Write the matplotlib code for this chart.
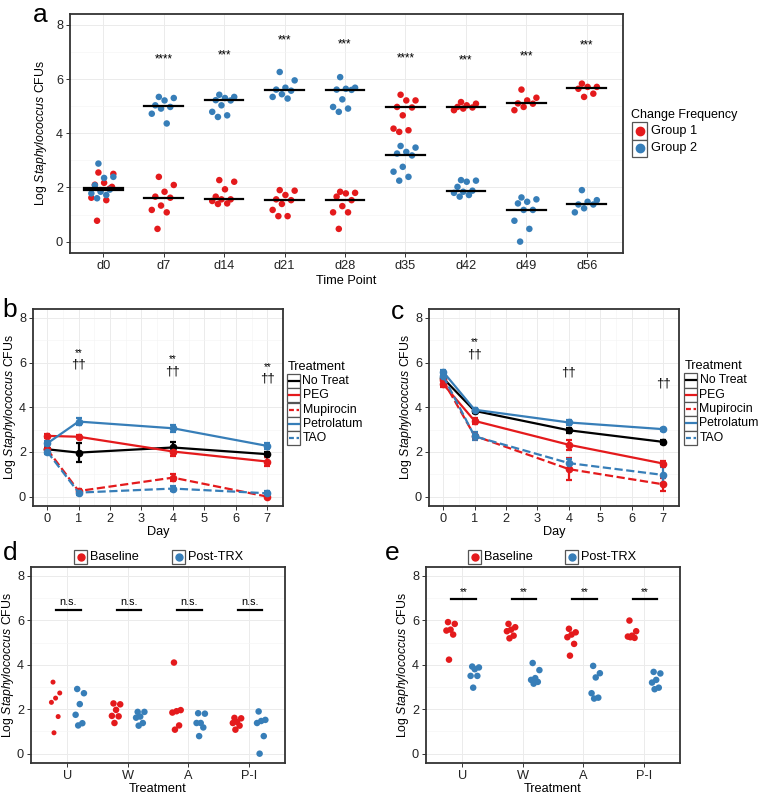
import numpy as np
import matplotlib
matplotlib.use("Agg")
import matplotlib.pyplot as plt
from matplotlib.patches import Rectangle
from matplotlib.lines import Line2D

plt.rcParams['font.family'] = ['Liberation Sans', 'DejaVu Sans']
plt.rcParams['mathtext.fontset'] = 'custom'
plt.rcParams['mathtext.rm'] = 'Liberation Sans'
plt.rcParams['mathtext.it'] = 'Liberation Sans:italic'

ROJO = '#E41A1C'
AZUL = '#377EB8'
BORDE = '#333333'
ANCHO, ALTO = 761, 796
LETRA = 8.8
ETIQUETA_Y = r"Log $\it{Staphylococcus}$ CFUs"

' Panel a data '
puntosTiempo = ['d0', 'd7', 'd14', 'd21', 'd28', 'd35', 'd42', 'd49', 'd56']
grupo1 = [
    [2.55, 2.5, 2.17, 2.1, 1.96, 1.9, 1.62, 1.53, 0.77, 2.02],
    [2.39, 2.09, 1.84, 1.66, 1.62, 1.33, 1.17, 1.08, 0.47],
    [2.27, 2.21, 1.93, 1.66, 1.56, 1.56, 1.5, 1.41, 1.39],
    [1.9, 1.88, 1.72, 1.56, 1.53, 1.39, 1.17, 0.94, 0.94],
    [1.84, 1.8, 1.78, 1.66, 1.53, 1.31, 1.08, 1.08, 0.47],
    [5.42, 5.21, 5.21, 4.97, 4.95, 4.66, 4.17, 4.11, 4.05],
    [5.15, 5.09, 5.03, 4.97, 4.95, 4.91, 4.85],
    [5.61, 5.31, 5.21, 5.1, 5.09, 4.97, 4.85],
    [5.83, 5.71, 5.71, 5.64, 5.46, 5.34],
]
grupo2 = [
    [2.88, 2.39, 2.35, 2.08, 1.92, 1.84, 1.78, 1.72, 1.6],
    [5.34, 5.3, 5.21, 5.03, 4.97, 4.91, 4.72, 4.36],
    [5.42, 5.34, 5.3, 5.22, 5.21, 5.03, 4.79, 4.66, 4.6],
    [6.26, 5.95, 5.68, 5.61, 5.57, 5.44, 5.34, 5.28],
    [6.07, 5.68, 5.64, 5.61, 5.6, 5.25, 4.97, 4.91, 4.79],
    [3.53, 3.47, 3.31, 3.25, 3.18, 2.76, 2.58, 2.39, 2.25],
    [2.27, 2.25, 2.21, 2.02, 1.88, 1.84, 1.8, 1.72, 1.66],
    [1.63, 1.56, 1.47, 1.41, 1.17, 1.17, 0.77, 0.47, 0.0],
    [1.9, 1.53, 1.47, 1.37, 1.37, 1.23, 1.08],
]
estrellasA = ['', '****', '***', '***', '***', '****', '***', '***', '***']
alturaEstrellasA = [0, 6.72, 6.88, 7.41, 7.29, 6.76, 6.7, 6.85, 7.25]

' Panels b and c data '
dias = [0, 1, 4, 7]
tratamientos = ['No Treat', 'PEG', 'Mupirocin', 'Petrolatum', 'TAO']
mediasB = {
    'No Treat': [2.12, 1.97, 2.2, 1.9],
    'PEG': [2.72, 2.68, 2.02, 1.57],
    'Mupirocin': [2.12, 0.25, 0.85, 0.0],
    'Petrolatum': [2.38, 3.36, 3.06, 2.27],
    'TAO': [2.02, 0.18, 0.36, 0.15],
}
erroresB = {
    'No Treat': [0.08, 0.42, 0.25, 0.12],
    'PEG': [0.08, 0.06, 0.2, 0.22],
    'Mupirocin': [0.1, 0.08, 0.15, 0.05],
    'Petrolatum': [0.1, 0.15, 0.15, 0.15],
    'TAO': [0.1, 0.1, 0.1, 0.1],
}
mediasC = {
    'No Treat': [5.3, 3.84, 2.97, 2.45],
    'PEG': [5.04, 3.39, 2.32, 1.48],
    'Mupirocin': [5.2, 2.72, 1.23, 0.55],
    'Petrolatum': [5.59, 3.89, 3.32, 3.02],
    'TAO': [5.4, 2.7, 1.5, 0.97],
}
erroresC = {
    'No Treat': [0.1, 0.1, 0.12, 0.1],
    'PEG': [0.12, 0.12, 0.22, 0.1],
    'Mupirocin': [0.15, 0.15, 0.5, 0.3],
    'Petrolatum': [0.08, 0.08, 0.1, 0.06],
    'TAO': [0.1, 0.18, 0.2, 0.35],
}
dobleB = ['', '**', '**', '**']
dagaB = ['', '\u2020\u2020', '\u2020\u2020', '\u2020\u2020']
alturaDobleB = [0, 6.42, 6.15, 5.82]
alturaDagaB = [0, 5.9, 5.61, 5.27]
dobleC = ['', '**', '', '']
dagaC = ['', '\u2020\u2020', '\u2020\u2020', '\u2020\u2020']
alturaDobleC = [0, 6.92, 0, 0]
alturaDagaC = [0, 6.36, 5.56, 5.08]

' Panels d and e data '
sitios = ['U', 'W', 'A', 'P-I']
baseD = [
    [3.22, 2.73, 2.5, 2.31, 1.67, 0.94],
    [2.26, 2.22, 1.97, 1.7, 1.68, 1.38],
    [4.1, 1.96, 1.91, 1.85, 1.27, 1.08],
    [1.61, 1.59, 1.43, 1.38, 1.26, 1.08],
]
postD = [
    [2.91, 2.72, 2.23, 1.75, 1.37, 1.27],
    [1.88, 1.88, 1.67, 1.62, 1.38, 1.26],
    [1.82, 1.8, 1.38, 1.38, 1.18, 0.79],
    [1.9, 1.52, 1.47, 1.38, 0.79, 0.0],
]
baseE = [
    [5.92, 5.84, 5.58, 5.54, 5.36, 4.23],
    [5.84, 5.69, 5.58, 5.51, 5.31, 5.19],
    [5.62, 5.46, 5.36, 5.24, 4.94, 4.41],
    [5.99, 5.51, 5.31, 5.27, 5.21, 5.24],
]
postE = [
    [3.92, 3.88, 3.8, 3.5, 3.5, 2.97],
    [4.08, 3.76, 3.4, 3.32, 3.23, 3.15],
    [3.95, 3.62, 3.43, 2.72, 2.52, 2.48],
    [3.68, 3.61, 3.32, 3.2, 2.97, 2.9],
]
signifD = ['n.s.', 'n.s.', 'n.s.', 'n.s.']
signifE = ['**', '**', '**', '**']


def caja(x0, y0, x1, y1):
    ' pixel box (from top-left) to figure rect '
    return [x0 / ANCHO, 1 - y1 / ALTO, (x1 - x0) / ANCHO, (y1 - y0) / ALTO]


def fx(x):
    return x / ANCHO


def fy(y):
    return 1 - y / ALTO


def jitter(n, ancho):
    ' deterministic spread, golden ratio sequence '
    return ancho * 2 * (((np.arange(n) * 0.618 + 0.3) % 1) - 0.5)


def estiloEje(ax, xmenores=None):
    ax.set_ylim(-0.42, 8.4)
    ax.set_yticks([0, 2, 4, 6, 8])
    ax.set_yticks([1, 3, 5, 7], minor=True)
    if xmenores is not None:
        ax.set_xticks(xmenores, minor=True)
    ax.grid(which='major', color='#EBEBEB', linewidth=0.7)
    ax.grid(which='minor', color='#F4F4F4', linewidth=0.4)
    ax.set_axisbelow(True)
    for s in ax.spines.values():
        s.set_color(BORDE)
        s.set_linewidth(1.3)
    ax.tick_params(which='major', length=3, width=0.7, color=BORDE,
                   labelsize=LETRA + 0.4, labelcolor='#222222', pad=2)
    ax.tick_params(which='minor', length=0)


def cajaClave(fig, x0, y0, x1, y1):
    fig.add_artist(Rectangle((fx(x0), fy(y1)), fx(x1) - fx(x0), fy(y0) - fy(y1),
                             transform=fig.transFigure, facecolor='white',
                             edgecolor='#555555', linewidth=0.9))


fig = plt.figure(figsize=(7.61, 7.96), dpi=100)

' ---- Panel a ---- '
axA = fig.add_axes(caja(70, 14, 623, 253))
estiloEje(axA)
posA = np.arange(1, len(puntosTiempo) + 1)
for i, p in enumerate(posA):
    for valores, color in ((grupo1[i], ROJO), (grupo2[i], AZUL)):
        xs = p + jitter(len(valores), 0.2)
        axA.scatter(xs, valores, s=22, color=color, edgecolors='none', zorder=3)
        med = np.median(valores)
        axA.plot([p - 0.32, p + 0.32], [med, med], color='black', lw=1.6, zorder=4)
    if estrellasA[i]:
        axA.text(p, alturaEstrellasA[i], estrellasA[i], ha='center', va='center',
                 fontsize=8.3)
axA.set_xlim(0.45, 9.6)
axA.set_xticks(posA)
axA.set_xticklabels(puntosTiempo)
axA.set_xlabel('Time Point', fontsize=LETRA + 0.4, labelpad=2)
axA.set_ylabel(ETIQUETA_Y, fontsize=LETRA, labelpad=5)
fig.text(fx(40), fy(15), 'a', fontsize=19, ha='center', va='center')

' legend a '
fig.text(fx(631), fy(115), 'Change Frequency', fontsize=LETRA + 0.2, va='center')
for j, (nombre, color) in enumerate((('Group 1', ROJO), ('Group 2', AZUL))):
    yc = 131 + j * 17.3
    cajaClave(fig, 632, yc - 8.5, 647, yc + 8.5)
    fig.add_artist(Line2D([fx(639.5)], [fy(yc)], marker='o', markersize=6,
                          color=color, transform=fig.transFigure))
    fig.text(fx(651), fy(yc), nombre, fontsize=LETRA + 0.4, va='center')

' ---- Panels b and c ---- '
estilos = {
    'No Treat': ('black', '-'),
    'PEG': (ROJO, '-'),
    'Mupirocin': (ROJO, '--'),
    'Petrolatum': (AZUL, '-'),
    'TAO': (AZUL, '--'),
}


def panelLineas(ax, medias, errores, doble, altDoble, daga, altDaga):
    estiloEje(ax, xmenores=np.arange(-0.5, 8, 1))
    for t in tratamientos:
        color, ls = estilos[t]
        ax.errorbar(dias, medias[t], yerr=errores[t], color=color, ls=ls,
                    lw=1.6, marker='o', markersize=4.5, capsize=2.5,
                    elinewidth=1.6, capthick=1.6, zorder=3)
    for i, d in enumerate(dias):
        if doble[i]:
            ax.text(d, altDoble[i], doble[i], ha='center', va='center', fontsize=7)
        if daga[i]:
            ax.text(d, altDaga[i], daga[i], ha='center', va='center', fontsize=9.5)
    ax.set_xlim(-0.45, 7.5)
    ax.set_xticks(range(0, 8))
    ax.set_xlabel('Day', fontsize=LETRA + 0.4, labelpad=1)
    ax.set_ylabel(ETIQUETA_Y, fontsize=LETRA, labelpad=1)


def leyendaLineas(x0, yTitulo, yPrimero):
    fig.text(fx(x0 + 1), fy(yTitulo), 'Treatment', fontsize=LETRA + 0.4, va='center')
    for j, t in enumerate(tratamientos):
        color, ls = estilos[t]
        yc = yPrimero + j * 14.3
        cajaClave(fig, x0, yc - 7.1, x0 + 13, yc + 7.1)
        fig.add_artist(Line2D([fx(x0 + 1.5), fx(x0 + 11.5)], [fy(yc), fy(yc)],
                              color=color, ls=ls, lw=1.6,
                              dashes=(2.2, 1.2) if ls == '--' else (None, None),
                              transform=fig.transFigure))
        fig.text(fx(x0 + 15.5), fy(yc), t, fontsize=LETRA, va='center')


axB = fig.add_axes(caja(33, 309, 283, 506))
panelLineas(axB, mediasB, erroresB, dobleB, alturaDobleB, dagaB, alturaDagaB)
fig.text(fx(10), fy(310), 'b', fontsize=19, ha='center', va='center')
leyendaLineas(287, 367, 381)

axC = fig.add_axes(caja(429, 309, 679, 506))
panelLineas(axC, mediasC, erroresC, dobleC, alturaDobleC, dagaC, alturaDagaC)
fig.text(fx(397), fy(312), 'c', fontsize=19, ha='center', va='center')
leyendaLineas(684, 366, 380.5)

' ---- Panels d and e ---- '


def panelPuntos(ax, base, post, signif, altBarra, chicoU=False):
    estiloEje(ax)
    pos = np.arange(1, len(sitios) + 1)
    for i, p in enumerate(pos):
        tam = 13 if (chicoU and i == 0) else 22
        ax.scatter(p - 0.2 + jitter(len(base[i]), 0.09), base[i], s=tam,
                   color=ROJO, edgecolors='none', zorder=3)
        ax.scatter(p + 0.2 + jitter(len(post[i]), 0.09), post[i], s=22,
                   color=AZUL, edgecolors='none', zorder=3)
        ax.plot([p - 0.18, p + 0.22], [altBarra, altBarra], color='black', lw=1.6)
        ax.text(p + 0.02, altBarra + 0.1, signif[i], ha='center', va='bottom',
                fontsize=7.8 if signif[i] == 'n.s.' else 7.3)
    ax.set_xlim(0.4, 4.6)
    ax.set_xticks(pos)
    ax.set_xticklabels(sitios)
    ax.set_xlabel('Treatment', fontsize=LETRA + 0.4, labelpad=1)
    ax.set_ylabel(ETIQUETA_Y, fontsize=LETRA, labelpad=1)


def leyendaPuntos(xBase, xPost, yc):
    for x0, nombre, color in ((xBase, 'Baseline', ROJO), (xPost, 'Post-TRX', AZUL)):
        cajaClave(fig, x0, yc - 7, x0 + 13, yc + 7)
        fig.add_artist(Line2D([fx(x0 + 6.5)], [fy(yc)], marker='o', markersize=5,
                              color=color, transform=fig.transFigure))
        fig.text(fx(x0 + 16), fy(yc), nombre, fontsize=LETRA + 0.4, va='center')


axD = fig.add_axes(caja(31, 567, 285, 763))
panelPuntos(axD, baseD, postD, signifD, 6.48, chicoU=True)
fig.text(fx(10), fy(553), 'd', fontsize=19, ha='center', va='center')
leyendaPuntos(74, 172, 557)

axE = fig.add_axes(caja(426, 567, 680, 763))
panelPuntos(axE, baseE, postE, signifE, 6.94)
fig.text(fx(392), fy(553), 'e', fontsize=19, ha='center', va='center')
leyendaPuntos(468, 565, 557)

fig.savefig('out.png', dpi=100)
